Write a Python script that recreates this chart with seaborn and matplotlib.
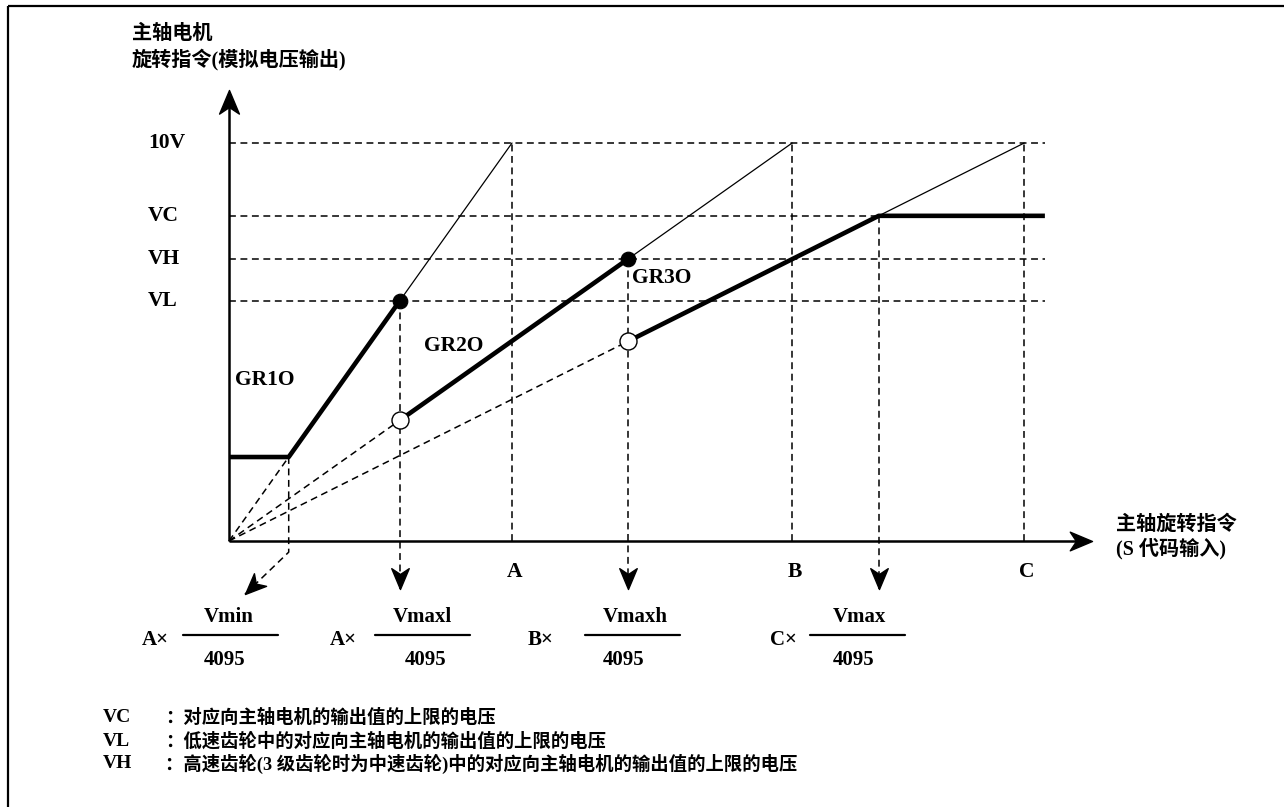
import numpy as np
import pandas as pd
import matplotlib
matplotlib.use("Agg")
import matplotlib.pyplot as plt
import seaborn as sns
from matplotlib.path import Path
from matplotlib.markers import MarkerStyle
from matplotlib.transforms import Affine2D
from matplotlib.patches import Rectangle

# ---------------- data ----------------
gear_names = ["GR1O", "GR2O", "GR3O"]
gear_full_scale = [1.0, 1.99, 2.81]          # S input giving 10V for each gear (A, B, C)
gear_tick_labels = ["A", "B", "C"]
V_FULL = 10.0
V_MIN = 2.11
V_L = 6.03
V_H = 7.09
V_C = 8.17
level_values = [V_FULL, V_C, V_H, V_L]
level_labels = ["10V", "VC", "VH", "VL"]
fraction_prefix = ["A×", "A×", "B×", "C×"]
fraction_numer = ["Vmin", "Vmaxl", "Vmaxh", "Vmax"]
fraction_denom = ["4095", "4095", "4095", "4095"]
legend_keys = ["VC", "VL", "VH"]
legend_texts = ["：对应向主轴电机的输出值的上限的电压",
                "：低速齿轮中的对应向主轴电机的输出值的上限的电压",
                "：高速齿轮(3 级齿轮时为中速齿轮)中的对应向主轴电机的输出值的上限的电压"]
y_title = ["主轴电机", "旋转指令(模拟电压输出)"]
x_title = ["主轴旋转指令", "(S 代码输入)"]

# ---------------- layout ----------------
W, H = 1284, 807
OX, OY = 229, 541            # origin in pixels
PX_X, PX_Y = 283.0, 39.8     # pixels per unit
X_RIGHT = 2.883              # end of guide lines
X_TIP = 3.05                 # x-axis arrow tip
Y_TIP = 11.33                # y-axis arrow tip
ARROW_V = -1.2               # tip of the downward guide arrows
FONT = ["Liberation Serif", "Noto Sans CJK SC"]

sns.set_theme(style="white")
plt.rcParams["font.family"] = FONT

fig = plt.figure(figsize=(W / 100, H / 100), dpi=100)
ax = fig.add_axes([0, 0, 1, 1])
ov = fig.add_axes([0, 0, 1, 1], zorder=5)
ov.patch.set_alpha(0)

A, B, C = gear_full_scale
gain = [V_FULL / g for g in gear_full_scale]
x_min = V_MIN / gain[0]
x_low = V_L / gain[0]
x_high = V_H / gain[1]
x_cap = V_C / gain[2]

rows = []
def seg(kind, pts):
    rows.append((kind, len(rows), pts))

# thick operating curve
seg("thick", [(0, V_MIN), (x_min, V_MIN), (x_low, V_L)])
seg("thick", [(x_low, x_low * gain[1]), (x_high, V_H)])
seg("thick", [(x_high, x_high * gain[2]), (x_cap, V_C), (X_RIGHT, V_C)])
# thin continuation to 10V
seg("thin", [(x_low, V_L), (A, V_FULL)])
seg("thin", [(x_high, V_H), (B, V_FULL)])
seg("thin", [(x_cap, V_C), (C, V_FULL)])
# dashed rays from origin
seg("dash", [(0, 0), (x_min, V_MIN)])
seg("dash", [(0, 0), (x_low, x_low * gain[1])])
seg("dash", [(0, 0), (x_high, x_high * gain[2])])
# dashed horizontal guides
for v in level_values:
    seg("dash", [(0, v), (x_cap if v == V_C else X_RIGHT, v)])
# dashed vertical guides
for g in gear_full_scale:
    seg("dash", [(g, 0), (g, V_FULL)])
seg("dash", [(x_low, V_L), (x_low, ARROW_V)])
seg("dash", [(x_high, V_H), (x_high, ARROW_V)])
seg("dash", [(x_cap, V_C), (x_cap, ARROW_V)])
diag_start = (x_min, -0.28)
diag_end = (x_min - 0.155, -1.34)
seg("dash", [(x_min, V_MIN), diag_start, diag_end])

df = pd.DataFrame([(k, s, x, y) for (k, s, pts) in rows for (x, y) in pts],
                  columns=["kind", "seg", "x", "y"])

styles = {
    "thick": dict(color="black", linewidth=3.3, solid_capstyle="butt"),
    "thin": dict(color="black", linewidth=0.9),
    "dash": dict(color="black", linewidth=1.1, linestyle=(0, (4.5, 3))),
}
for kind, kw in styles.items():
    sub = df[df.kind == kind]
    sns.lineplot(data=sub, x="x", y="y", units="seg", estimator=None, sort=False,
                 ax=ax, legend=False, **kw)

# axes lines
ax.plot([0, 0], [0, Y_TIP - 0.4], color="black", lw=1.8, solid_capstyle="butt")
ax.plot([0, X_TIP - 0.05], [0, 0], color="black", lw=1.8, solid_capstyle="butt")

# points
pts_filled = pd.DataFrame({"x": [x_low, x_high], "y": [V_L, V_H]})
pts_open = pd.DataFrame({"x": [x_low, x_high], "y": [x_low * gain[1], x_high * gain[2]]})
sns.scatterplot(data=pts_filled, x="x", y="y", ax=ax, s=110, color="black",
                edgecolor="black", zorder=6, legend=False)
sns.scatterplot(data=pts_open, x="x", y="y", ax=ax, s=150, facecolor="white",
                edgecolor="black", linewidth=1.0, zorder=6, legend=False)

# arrow heads (stealth shaped markers, tip at marker origin)
stealth = Path([(0, 0), (-0.42, -1), (0, -0.72), (0.42, -1), (0, 0)],
               [Path.MOVETO, Path.LINETO, Path.LINETO, Path.LINETO, Path.CLOSEPOLY])
def head(x, y, angle_deg, size):
    m = MarkerStyle(stealth, transform=Affine2D().rotate_deg(angle_deg - 90))
    ax.plot([x], [y], marker=m, markersize=size, color="black", zorder=7, linestyle="none")

head(0, Y_TIP, 90, 34)
head(X_TIP, 0, 0, 32)
for xx in [x_low, x_high, x_cap]:
    head(xx, ARROW_V, -90, 30)
dx = (diag_end[0] - diag_start[0]) * PX_X
dy = (diag_end[1] - diag_start[1]) * PX_Y
head(diag_end[0], diag_end[1], np.degrees(np.arctan2(dy, dx)), 30)

ax.set_xlim(-OX / PX_X, (W - OX) / PX_X)
ax.set_ylim(-(H - OY) / PX_Y, OY / PX_Y)
ax.axis("off")

# ---------------- overlay texts (pixel coords) ----------------
ov.set_xlim(0, W)
ov.set_ylim(H, 0)
ov.axis("off")
bold = dict(fontweight="bold", color="black", family=FONT)

ov.add_patch(Rectangle((8, 6), W + 20, H + 20, fill=False, lw=1.6, edgecolor="black"))

ov.text(132, 34, y_title[0], fontsize=14.5, va="center", ha="left", **bold)
ov.text(132, 60, y_title[1], fontsize=14.5, va="center", ha="left", **bold)
ov.text(1116, 525, x_title[0], fontsize=14.5, va="center", ha="left", **bold)
ov.text(1116, 549, x_title[1], fontsize=14.5, va="center", ha="left", **bold)

for lab, v in zip(level_labels, level_values):
    ov.text(148, OY - v * PX_Y, lab, fontsize=15.5, va="center", ha="left", **bold)

gear_label_pos = [(265, 380), (454, 346), (662, 278)]
for name, (gx, gy) in zip(gear_names, gear_label_pos):
    ov.text(gx, gy, name, fontsize=15.5, va="center", ha="center", **bold)

for lab, g in zip(gear_tick_labels, gear_full_scale):
    ov.text(OX + g * PX_X + 3, 572, lab, fontsize=15.5, va="center", ha="center", **bold)

frac_prefix_x = [142, 330, 528, 770]
frac_line = [(183, 278), (375, 470), (585, 680), (810, 905)]
frac_num_x = [204, 393, 603, 833]
frac_den_x = [204, 405, 603, 833]
for p, n, d, px, (l0, l1), nx, dxx in zip(fraction_prefix, fraction_numer, fraction_denom,
                                          frac_prefix_x, frac_line, frac_num_x, frac_den_x):
    ov.text(px, 640, p, fontsize=15, va="center", ha="left", **bold)
    ov.plot([l0, l1], [635, 635], color="black", lw=1.6)
    ov.text(nx, 617, n, fontsize=15, va="center", ha="left", **bold)
    ov.text(dxx, 660, d, fontsize=15, va="center", ha="left", **bold)

for i, (k, t) in enumerate(zip(legend_keys, legend_texts)):
    yy = 718 + i * 23
    ov.text(103, yy, k, fontsize=14, va="center", ha="left", **bold)
    ov.text(165, yy, t, fontsize=13.2, va="center", ha="left", **bold)

fig.savefig("out.png", dpi=100)
